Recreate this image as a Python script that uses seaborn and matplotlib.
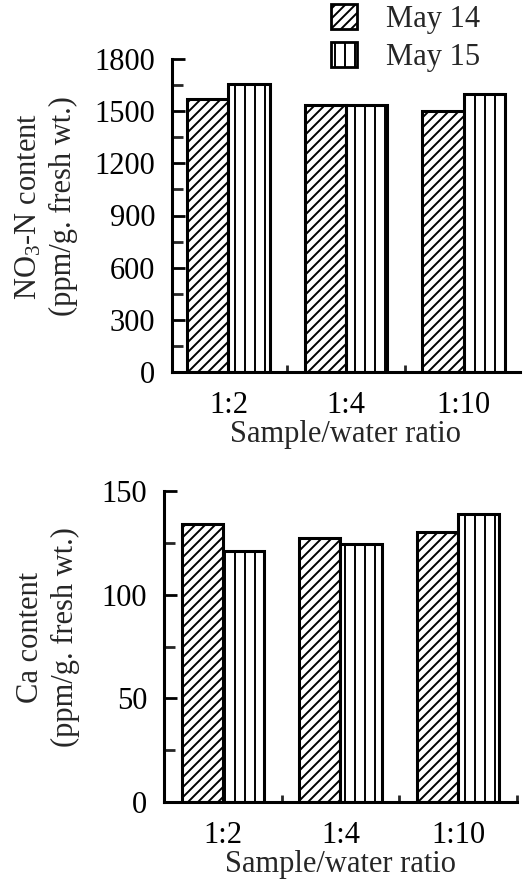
import matplotlib
matplotlib.use("Agg")
import matplotlib.pyplot as plt
import matplotlib.patches as mpatches
from matplotlib.ticker import MultipleLocator, FixedLocator
import seaborn as sns
import pandas as pd

ratios = ["1:2", "1:4", "1:10"]
dates = ["May 14", "May 15"]
no3_may14 = [1570, 1535, 1500]
no3_may15 = [1655, 1535, 1600]
ca_may14 = [134, 127.5, 130]
ca_may15 = [121, 124.5, 139]

DPI = 120
K = 100 / DPI  # convert sizes tuned at 100 dpi

sns.set_theme(style="ticks")
plt.rcParams["font.family"] = ["Liberation Serif", "DejaVu Serif"]
plt.rcParams["mathtext.fontset"] = "custom"
plt.rcParams["mathtext.rm"] = "Liberation Serif"
plt.rcParams["mathtext.it"] = "Liberation Serif:italic"
plt.rcParams["hatch.linewidth"] = 1.4 * K
plt.rcParams["hatch.color"] = "black"

FS = 22 * K
hatches = ["////", "||"]

def make_df(a, b):
    return pd.DataFrame({
        "ratio": ratios * 2,
        "date": [dates[0]] * 3 + [dates[1]] * 3,
        "value": list(a) + list(b),
    })

W, H = 526, 887
fig = plt.figure(figsize=(W / DPI, H / DPI), dpi=DPI)
ax1 = fig.add_axes([172 / W, 1 - 372 / H, 348 / W, 313 / H])
ax2 = fig.add_axes([164 / W, 1 - 802 / H, 353 / W, 311 / H])

specs = [
    (ax1, make_df(no3_may14, no3_may15), 1800, 300, 150,
     "NO$_3$-N content\n(ppm/g. fresh wt.)", (-0.48, 2.48), -0.27),
    (ax2, make_df(ca_may14, ca_may15), 150, 50, 25,
     "Ca content\n(ppm/g. fresh wt.)", (-0.5, 2.5), -0.238),
]

for ax, df, ymax, major, minor, ylab, xlim, lx in specs:
    sns.barplot(data=df, x="ratio", y="value", hue="date", order=ratios,
                hue_order=dates, palette=["white", "white"], width=0.7,
                edgecolor="black", linewidth=2.2 * K, saturation=1,
                legend=False, errorbar=None, ax=ax, gap=0)
    for cont, h in zip(ax.containers, hatches):
        for p in cont:
            p.set_hatch(h)
    ax.set_ylim(0, ymax)
    ax.set_xlim(*xlim)
    ax.yaxis.set_major_locator(MultipleLocator(major))
    ax.yaxis.set_minor_locator(MultipleLocator(minor))
    ax.xaxis.set_minor_locator(FixedLocator([0.5, 1.5, 2.5]))
    ax.tick_params(axis="y", which="major", direction="in", length=9 * K,
                   width=2 * K, labelsize=FS, pad=12 * K, colors="black")
    ax.tick_params(axis="y", which="minor", direction="in", length=8 * K,
                   width=2 * K)
    ax.tick_params(axis="x", which="major", length=0, labelsize=FS,
                   pad=14 * K, colors="black")
    ax.tick_params(axis="x", which="minor", direction="in", length=5 * K,
                   width=2 * K)
    for s in ["top", "right"]:
        ax.spines[s].set_visible(False)
    for s in ["left", "bottom"]:
        ax.spines[s].set_linewidth(2.2 * K)
        ax.spines[s].set_color("black")
    ax.set_xlabel("Sample/water ratio", fontsize=FS, labelpad=0)
    ax.set_ylabel(ylab, fontsize=FS, linespacing=1.25)
    ax.yaxis.set_label_coords(lx, 0.53)

handles = [mpatches.Patch(facecolor="white", edgecolor="black",
                          linewidth=2 * K, hatch=h, label=d)
           for h, d in zip(hatches, dates)]
fig.legend(handles=handles, loc="upper left",
           bbox_to_anchor=(331 / W, 1 - 4 / H), frameon=False, fontsize=FS,
           handlelength=0.85, handleheight=0.9, handletextpad=0.95,
           labelspacing=0.25, borderpad=0, borderaxespad=0)

fig.savefig("out.png", dpi=DPI)
